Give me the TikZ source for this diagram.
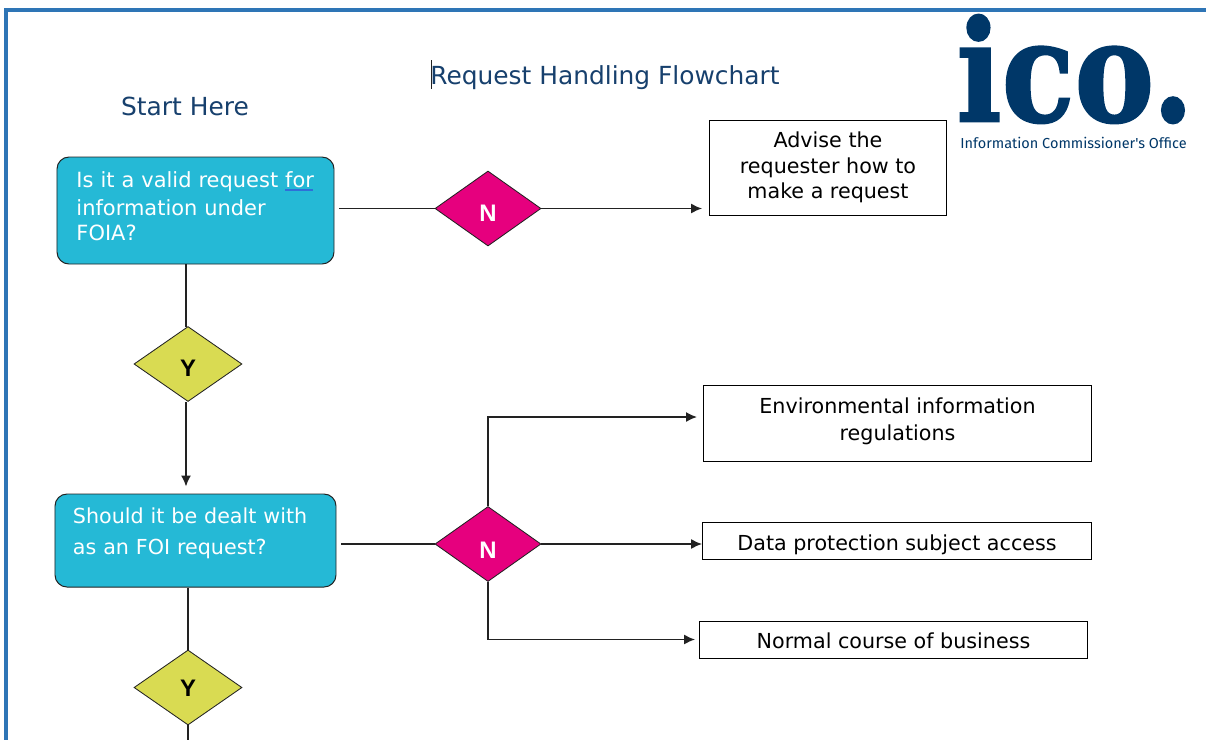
\documentclass[tikz,border=0pt]{standalone}
\usepackage{fontspec}
\usepackage{xcolor}
\setmainfont{DejaVu Sans}
\newfontfamily\logofont[BoldFeatures={FakeBold=1.5}]{DejaVu Serif}
\newfontfamily\officefont{Fira Sans}
\newfontfamily\markfont{Liberation Sans}
\usetikzlibrary{shapes.geometric,arrows.meta}
\definecolor{framec}{HTML}{2E75B6}
\definecolor{navy}{HTML}{17406D}
\definecolor{logoc}{HTML}{003768}
\definecolor{tealc}{HTML}{25B9D6}
\definecolor{pinkc}{HTML}{E6007E}
\definecolor{olivec}{HTML}{D9DB52}
\definecolor{linec}{HTML}{222222}
\definecolor{spellc}{HTML}{2F6FD8}
\tikzset{
    question/.style={draw=linec,fill=tealc,rounded corners=3mm,line width=0.7pt,text=white,align=left,inner sep=0pt,font=\fontsize{14.7}{19}\selectfont},
    answer/.style={draw=black,fill=white,line width=0.6pt,align=center,inner sep=0pt,font=\fontsize{14.7}{18}\selectfont},
    nomark/.style={diamond,draw=linec,fill=pinkc,line width=0.6pt,inner sep=0pt,minimum width=26.5mm,minimum height=18.75mm,text=white,text depth=0pt,font=\markfont\bfseries\fontsize{17}{17}\selectfont},
    yesmark/.style={diamond,draw=linec,fill=olivec,line width=0.6pt,inner sep=0pt,minimum width=27mm,minimum height=18.75mm,text=black,text depth=0pt,font=\markfont\bfseries\fontsize{17}{17}\selectfont},
    link/.style={line width=1.1pt,draw=linec},
    linkarrow/.style={link,-{Latex[length=2.75mm,width=2.5mm]},shorten >=1.75mm},
    heading/.style={text=navy,inner sep=0pt,font=\fontsize{17.7}{20}\selectfont}
}
\begin{document}
\begin{tikzpicture}[x=0.25mm,y=-0.25mm]
    \useasboundingbox (0,0) rectangle (1206,740);

    \fill[framec] (4,8) rectangle (1206,12);
    \fill[framec] (4,8) rectangle (8,740);

    \node[heading] (title) at (605,77.5) {Request Handling Flowchart};
    \node[heading] (start) at (185,106) {Start Here};
    \draw[line width=0.6pt,linec] (431,60) coordinate (cursor top) -- (431,89) coordinate (cursor end);

    \node[transform shape,xscale=.85,text=logoc,inner sep=0pt,font=\logofont\bfseries\fontsize{100}{100}\selectfont] (logo) at (1075,69) {ico.};
    \node[text=logoc,inner sep=0pt,font=\officefont\fontsize{10.3}{12}\selectfont] (office) at (1073.5,143) {Information Commissioner's Office};

    \node[question,minimum width=69.25mm,minimum height=26.75mm,text width=59.5mm,font=\fontsize{14.9}{19}\selectfont] (valid) at (195.5,210.5)
        {Is it a valid request \rlap{\color{spellc}\rule[-2.4pt]{20pt}{1pt}}for\\[1pt]information under\\[-1.2pt]FOIA?\\[-12.6pt]\mbox{}};
    \node[question,minimum width=70.25mm,minimum height=23.25mm,text width=61.25mm] (foi) at (195.5,540.5)
        {Should it be dealt with\\[3pt]as an FOI request?\\[-6pt]\mbox{}};

    \node[nomark,text height=19pt] (none) at (488,208.5) {N};
    \node[nomark,text height=20.6pt] (ntwo) at (488,544) {N};
    \node[yesmark,text height=17.6pt] (yone) at (188,364) {Y};
    \node[yesmark,text height=13.4pt] (ytwo) at (188,687.5) {Y};

    \node[answer,minimum width=59.25mm,minimum height=23.75mm] (advise) at (828,167.5)
        {Advise the\\requester how to\\make a request};
    \node[answer,minimum width=97mm,minimum height=19mm] (envreg) at (897.5,423)
        {Environmental information\\[1.2pt]regulations\\[-12pt]};
    \node[answer,minimum width=97.25mm,minimum height=9.25mm,text height=13.6pt,text depth=0pt] (dpsa) at (897,540.5) {Data protection subject access};
    \node[answer,minimum width=97mm,minimum height=9.25mm,text height=12.2pt,text depth=0pt] (normal) at (893.5,639.5) {Normal course of business};

    \coordinate (page end) at (188,740);
    \coordinate (envreg in) at (704,417);
    \coordinate (drop) at (186,327);

    \draw[link,shorten <=1.25mm] (valid.east |- none.west) -- (none.west);
    \draw[linkarrow] (none.east) -- (none.east -| advise.west);
    \draw[link] (valid.south -| drop) -- (drop);
    \draw[linkarrow] (yone.south -| drop) -- (drop |- foi.north);
    \draw[link,shorten <=1.25mm] (foi.east |- ntwo.west) -- (ntwo.west);
    \draw[linkarrow] (ntwo.north) |- (envreg in);
    \draw[linkarrow,shorten >=0pt] (ntwo.east) -- (ntwo.east -| dpsa.west);
    \draw[linkarrow,shorten >=1mm] (ntwo.south) |- (normal.west);
    \draw[link] (foi.south -| ytwo.north) -- (ytwo.north);
    \draw[link] (ytwo.south) -- (page end);
\end{tikzpicture}
\end{document}
